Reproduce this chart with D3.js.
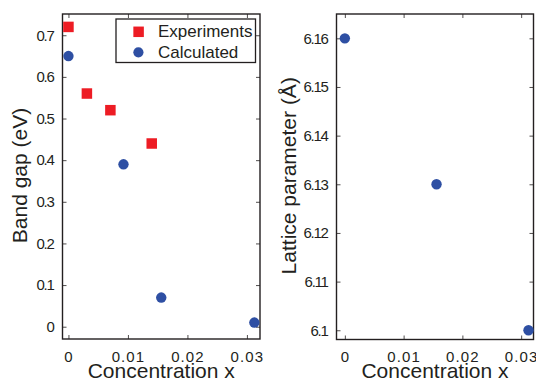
<!DOCTYPE html>
<html>
<head>
<meta charset="utf-8">
<script src="https://cdn.jsdelivr.net/npm/d3@7"></script>
<style>
  body { margin: 0; background: #fff; }
  svg text { font-family: "Liberation Sans", Arial, sans-serif; fill: #231f20; }
</style>
</head>
<body>
<script>
// data
var expX = [0, 0.0031, 0.00705, 0.014];
var expGap = [0.72, 0.56, 0.52, 0.44];
var calcX = [0, 0.00925, 0.0156, 0.03125];
var calcGap = [0.65, 0.39, 0.07, 0.01];
var latX = [0, 0.0156, 0.03125];
var latA = [6.16, 6.13, 6.10];
var xTicks = [0, 0.01, 0.02, 0.03];
var gapTicks = [0, 0.1, 0.2, 0.3, 0.4, 0.5, 0.6, 0.7];
var latTicks = [6.1, 6.11, 6.12, 6.13, 6.14, 6.15, 6.16];
var legendNames = ["Experiments", "Calculated"];

var red = "#ed1c24", blue = "#2e4fa3", ink = "#231f20";

var svg = d3.select("body").append("svg")
    .attr("width", 536)
    .attr("height", 379);

function fmt(d) { return d === 0 ? "0" : String(+d.toFixed(3)); }

function panel(box, xDom, yDom, yTicks, ylabel) {
    var x = d3.scaleLinear().domain(xDom).range([box.left, box.right]);
    var y = d3.scaleLinear().domain(yDom).range([box.bottom, box.top]);
    var g = svg.append("g");
    // inward ticks on all four sides
    var tl = 4;
    var bx = g.append("g").attr("transform", "translate(0," + box.bottom + ")")
        .call(d3.axisBottom(x).tickValues(xTicks).tickSize(-tl).tickPadding(12).tickFormat(fmt));
    g.append("g").attr("transform", "translate(0," + box.top + ")")
        .call(d3.axisTop(x).tickValues(xTicks).tickSize(-tl).tickFormat(""));
    var ly = g.append("g").attr("transform", "translate(" + box.left + ",0)")
        .call(d3.axisLeft(y).tickValues(yTicks).tickSize(-tl).tickPadding(9).tickFormat(fmt));
    g.append("g").attr("transform", "translate(" + box.right + ",0)")
        .call(d3.axisRight(y).tickValues(yTicks).tickSize(-tl).tickFormat(""));
    g.selectAll(".domain").remove();
    g.selectAll(".tick line").attr("stroke", ink).attr("stroke-width", 0.8);
    g.selectAll(".tick text").style("font-size", "15px").attr("fill", ink);
    bx.selectAll(".tick text").style("letter-spacing", "1.1px");
    ly.selectAll(".tick text").style("letter-spacing", "-1.3px");
    g.append("rect")
        .attr("x", box.left).attr("y", box.top)
        .attr("width", box.right - box.left).attr("height", box.bottom - box.top)
        .attr("fill", "none").attr("stroke", ink).attr("stroke-width", 1.4);
    svg.append("text")
        .attr("x", (box.left + box.right) / 2).attr("y", 378)
        .attr("text-anchor", "middle").style("font-size", "21px")
        .text("Concentration x");
    svg.append("text")
        .attr("transform", "translate(" + box.ylab + "," + ((box.top + box.bottom) / 2 - 1) + ") rotate(-90)")
        .attr("text-anchor", "middle").style("font-size", "21px")
        .text(ylabel);
    return { x: x, y: y };
}

// left panel: band gap
var L = panel({ left: 62.5, right: 260, top: 14, bottom: 339, ylab: 27 },
    [-0.001, 0.0322], [-0.0295, 0.751], gapTicks, "Band gap (eV)");

var sq = 10.5;
svg.append("g").selectAll("rect")
    .data(expX)
    .join("rect")
    .attr("x", function (d) { return L.x(d) - sq / 2; })
    .attr("y", function (d, i) { return L.y(expGap[i]) - sq / 2; })
    .attr("width", sq).attr("height", sq)
    .attr("fill", red);

svg.append("g").selectAll("circle")
    .data(calcX)
    .join("circle")
    .attr("cx", function (d) { return L.x(d); })
    .attr("cy", function (d, i) { return L.y(calcGap[i]); })
    .attr("r", 5.2)
    .attr("fill", blue);

// legend
var lg = svg.append("g");
lg.append("rect")
    .attr("x", 116).attr("y", 19).attr("width", 139.5).attr("height", 43.5)
    .attr("fill", "#fff").attr("stroke", ink).attr("stroke-width", 1.3);
lg.append("rect").attr("x", 138.6 - sq / 2).attr("y", 31.8 - sq / 2)
    .attr("width", sq).attr("height", sq).attr("fill", red);
lg.append("circle").attr("cx", 138.4).attr("cy", 52.3).attr("r", 5.1).attr("fill", blue);
lg.selectAll("text")
    .data(legendNames)
    .join("text")
    .attr("x", 158)
    .attr("y", function (d, i) { return 37.3 + i * 20.4; })
    .style("font-size", "17px")
    .text(function (d) { return d; });

// right panel: lattice parameter
var R = panel({ left: 336.5, right: 533.5, top: 14, bottom: 339.5, ylab: 296 },
    [-0.00142, 0.0321], [6.0981, 6.165], latTicks, "Lattice parameter (\u00c5)");

svg.append("g").selectAll("circle")
    .data(latX)
    .join("circle")
    .attr("cx", function (d) { return R.x(d); })
    .attr("cy", function (d, i) { return R.y(latA[i]); })
    .attr("r", 5.2)
    .attr("fill", blue);
</script>
</body>
</html>
